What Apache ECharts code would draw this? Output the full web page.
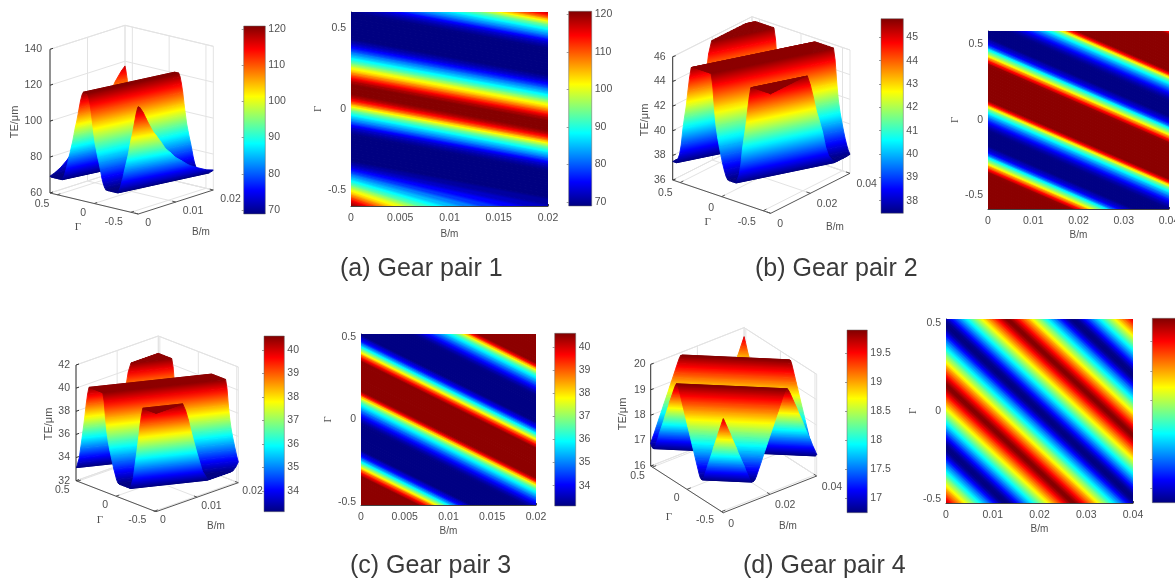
<!DOCTYPE html>
<html><head><meta charset="utf-8">
<style>html,body{margin:0;padding:0;background:#fff;overflow:hidden}#c{width:1175px;height:582px;filter:blur(0.5px)}</style>
<script src="https://cdn.jsdelivr.net/npm/echarts@6/dist/echarts.min.js"></script>
</head><body><div id="c"></div>
<script>
// TE (µm) read across one stripe period of each map, in order of falling Γ.
const te_a=[120.5,120.5,118.7,115.1,110.4,104.2,98.5,93.3,89.7,86,82.9,79.3,75.4,72.5,70.5,69.2,69,69,69,69,69,69,69,69,69,70.5,72.5,75.4,78.2,81.9,85,88.4,91.7,95.9,100,103.2,107.3,111.5,115.6,118.7,120.5,120.5];
const te_b=[45.7,44.76,42.96,41.55,40.67,39.96,39.3,38.71,38.21,37.79,37.54,37.5,37.5,37.5,37.5,37.5,37.88,38.29,39.13,40.46,41.46,42.38,43.63,44.76,45.63,45.7,45.7,45.7,45.7,45.7,45.7,45.7,45.7,45.7,45.7,45.7];
const te_c=[40.5,39.78,38.36,37.23,36.41,35.81,35.29,34.77,34.28,33.87,33.46,33.2,33.15,33.15,33.15,33.15,33.15,33.15,33.15,33.15,33.15,33.64,34.09,34.99,35.89,36.86,37.83,38.95,39.85,40.5,40.5,40.5,40.5,40.5,40.5,40.5,40.5,40.5,40.5];
const te_d=[19.88,19.77,19.62,19.46,19.3,19.14,18.99,18.83,18.67,18.51,18.36,18.2,18.04,17.88,17.73,17.57,17.41,17.25,17.1,16.94,16.81,16.76,16.76,16.84,17,17.16,17.32,17.51,17.66,17.82,17.98,18.14,18.33,18.48,18.64,18.8,18.99,19.14,19.3,19.46,19.62,19.77,19.88];

// stripe geometry: Γ of the first reading at B=0, Γ period, Γ drop over the B range
const stripe_a=[0.112,0.755,0.2245], stripe_b=[0.128,0.717,0.519], stripe_c=[0.172,0.700,0.527], stripe_d=[0.138,0.703,0.989];
// gear pair 1: its lower-left band runs steeper than the central one
const dropLower_a=[0.25,0.27,0.29,0.31,0.33,0.35,0.36,0.38,0.39,0.41,0.42,0.43,0.44,0.44,0.43,0.40,0.36,0.34];
const bMax_a=0.02, bMax_b=0.04, bMax_c=0.02, bMax_d=0.04;
const gammaLim_a=0.6, gammaLim_b=0.59, gammaLim_c=0.52, gammaLim_d=0.525;
const colorRange_a=[68.9,120.8], colorRange_b=[37.46,45.8], colorRange_c=[33.12,40.6], colorRange_d=[16.75,19.9];

const gammaTicks=[0.5,0,-0.5];
const zTicks_a=[60,80,100,120,140], zTicks_b=[36,38,40,42,44,46], zTicks_c=[32,34,36,38,40,42], zTicks_d=[16,17,18,19,20];
const bTicks3d_a=[0,0.01,0.02], bTicks3d_b=[0,0.02,0.04], bTicks3d_c=[0,0.01,0.02], bTicks3d_d=[0,0.02,0.04];
const bTicksMap_a=[0,0.005,0.01,0.015,0.02], bTicksMap_b=[0,0.01,0.02,0.03,0.04], bTicksMap_c=[0,0.005,0.01,0.015,0.02], bTicksMap_d=[0,0.01,0.02,0.03,0.04];
const barTicks_a=[70,80,90,100,110,120], barTicks_b=[38,39,40,41,42,43,44,45], barTicks_c=[34,35,36,37,38,39,40], barTicks_d=[17,17.5,18,18.5,19,19.5];
const captions=['(a) Gear pair 1','(b) Gear pair 2','(c) Gear pair 3','(d) Gear pair 4'];

// ---- layout (pixels) ----
const jetStops=['#00007f','#0000ff','#007fff','#00ffff','#7fff7f','#ffff00','#ff7f00','#ff0000','#7f0000'];
const TXT='#505050', FONT='"Liberation Sans",Arial,sans-serif';
const panels=[
 {te:te_a,st:stripe_a,bMax:bMax_a,gl:gammaLim_a,cr:colorRange_a,zT:zTicks_a,bT3:bTicks3d_a,bTM:bTicksMap_a,barT:barTicks_a,
  drop:k=>k>=25?dropLower_a[Math.min(k-25,dropLower_a.length-1)]:stripe_a[2],
  L:[50,193],N:[138.3,214],R:[213.3,190],zTopY:49.3,zdx:-8,gOff:[-8,9.5],bOff:[7,9],gName:[78,227],bName:[201,232],zName:[15,122],
  map:[351,12,197,194],xGap:23.5,yGap:12,bars:[[243.7,26,21.6,188],[568.7,11.3,23,194.7]],cap:[340,271]},
 {te:te_b,st:stripe_b,bMax:bMax_b,gl:gammaLim_b,cr:colorRange_b,zT:zTicks_b,bT3:bTicks3d_b,bTM:bTicksMap_b,barT:barTicks_b,
  L:[672.7,180],N:[770.7,213.3],R:[850,173.3],zTopY:56.7,zdx:-7,gOff:[-7.5,11],bOff:[6.5,10.5],gName:[707.7,222],bName:[835,227],zName:[645,120],
  map:[988,31,181,178],xGap:21,yGap:9,bars:[[881,18.7,22.3,194.6]],cap:[755,271]},
 {te:te_c,st:stripe_c,bMax:bMax_c,gl:gammaLim_c,cr:colorRange_c,zT:zTicks_c,bT3:bTicks3d_c,bTM:bTicksMap_c,barT:barTicks_c,
  L:[76,480.7],N:[156,511.7],R:[238.3,482.7],zTopY:365,zdx:-6,gOff:[-8,9],bOff:[4,8.5],gName:[100,520],bName:[216,526],zName:[49,424],
  map:[361,334,175,171],xGap:21.5,yGap:12,bars:[[264,336,20.3,175.7],[554.7,333.3,21,172.7]],cap:[350,568]},
 {te:te_d,st:stripe_d,bMax:bMax_d,gl:gammaLim_d,cr:colorRange_d,zT:zTicks_d,bT3:bTicks3d_d,bTM:bTicksMap_d,barT:barTicks_d,
  L:[650.7,466],N:[723.3,512.7],R:[816.7,476],zTopY:364.3,zdx:-5,gOff:[-7.5,9],bOff:[5,11],gName:[669,517],bName:[788,526],zName:[623,414],
  map:[946,319,187,184],xGap:21.5,yGap:12,bars:[[847,330,20.3,182.7],[1152.3,318.3,24,184.4]],cap:[743,568]}
];

const jet=(te,cr)=>echarts.color.lerp(Math.max(0,Math.min(1,(te-cr[0])/(cr[1]-cr[0]))),jetStops);
const mod=(a,n)=>((a%n)+n)%n;
const dropOf=(p,k)=>p.drop?p.drop(k):p.st[2];

// One facet per pair of neighbouring readings, running along the stripe across the B range.
function stripRows(p){
  const n=p.te.length, d=p.st[1]/n, g0=p.st[0];
  const kMin=Math.floor((g0-p.gl-p.st[2])/d)-1, kMax=Math.ceil((g0+p.gl)/d)+1, rows=[];
  for(let k=kMin;k<=kMax;k++) rows.push([k,p.te[mod(k,n)],p.te[mod(k+1,n)]]);
  return rows;
}
function stripFill(P1,P2,E,z1,z2,cr){
  const el=Math.hypot(E[0],E[1])||1, nx=-E[1]/el, ny=E[0]/el;
  const dd=(P2[0]-P1[0])*nx+(P2[1]-P1[1])*ny, stops=[];
  for(let i=0;i<=4;i++) stops.push({offset:i/4,color:jet(z1+(z2-z1)*i/4,cr)});
  return new echarts.graphic.LinearGradient(P1[0],P1[1],P1[0]+nx*dd,P1[1]+ny*dd,stops,true);
}
function clipGamma(poly,lim,sign){
  const out=[];
  for(let i=0;i<poly.length;i++){
    const a=poly[i], b=poly[(i+1)%poly.length];
    const ia=sign*a.g<=lim, ib=sign*b.g<=lim;
    if(ia) out.push(a);
    if(ia!==ib){
      const t=(sign*lim-a.g)/(b.g-a.g);
      out.push({b:a.b+(b.b-a.b)*t,g:a.g+(b.g-a.g)*t,z:a.z+(b.z-a.z)*t});
    }
  }
  return out;
}
function projector(p){
  const zMin=p.zT[0], zMax=p.zT[p.zT.length-1], ppu=(p.L[1]-p.zTopY)/(zMax-zMin);
  return (b,g,z)=>{
    const u=(g+p.gl)/(2*p.gl);
    return [p.N[0]+b*(p.R[0]-p.N[0])+u*(p.L[0]-p.N[0]), p.N[1]+b*(p.R[1]-p.N[1])+u*(p.L[1]-p.N[1])-(z-zMin)*ppu];
  };
}

const grid=[],xAxis=[],yAxis=[],series=[];
// shared pixel-space grid used to place the projected 3-D boxes and surfaces
grid.push({left:0,top:0,width:1175,height:582,outerBoundsMode:'none'});
xAxis.push({type:'value',gridIndex:0,min:0,max:1175,show:false});
yAxis.push({type:'value',gridIndex:0,min:0,max:582,inverse:true,show:false});

function boxSeries(p){
  const zMin=p.zT[0],zMax=p.zT[p.zT.length-1],pr=projector(p),G='#e3e3e3',D='#555';
  return {type:'custom',xAxisIndex:0,yAxisIndex:0,data:[[0]],silent:true,clip:false,z:2,
   renderItem(params,api){
    const c=[],xy=q=>api.coord(q);
    const line=(a,b,col,w)=>{const A=xy(a),B=xy(b);c.push({type:'line',shape:{x1:A[0],y1:A[1],x2:B[0],y2:B[1]},style:{stroke:col,lineWidth:w||1}});};
    const text=(s,q,o)=>{const Q=xy(q);c.push({type:'text',x:Q[0],y:Q[1],rotation:o.rot||0,style:{text:String(s),fill:TXT,fontFamily:o.font||FONT,fontSize:o.size||10.5,align:o.align||'center',verticalAlign:'middle'}});};
    const g1=p.gl,g0=-p.gl;
    p.zT.forEach(z=>{line(pr(0,g1,z),pr(1,g1,z),G);line(pr(1,g1,z),pr(1,g0,z),G);});
    p.bT3.forEach(b=>{const f=b/p.bMax;line(pr(f,g0,zMin),pr(f,g1,zMin),G);line(pr(f,g1,zMin),pr(f,g1,zMax),G);});
    gammaTicks.forEach(g=>{line(pr(0,g,zMin),pr(1,g,zMin),G);line(pr(1,g,zMin),pr(1,g,zMax),G);});
    line(pr(1,g1,zMin),pr(1,g1,zMax),G);line(pr(1,g0,zMin),pr(1,g0,zMax),G);
    line(pr(0,g1,zMax),pr(1,g1,zMax),G);line(pr(1,g1,zMax),pr(1,g0,zMax),G);
    line(pr(0,g1,zMin),pr(1,g1,zMin),G);line(pr(1,g1,zMin),pr(1,g0,zMin),G);
    line(pr(0,g1,zMin),pr(0,g1,zMax),'#333');
    line(pr(0,g1,zMin),pr(0,g0,zMin),D);
    line(pr(0,g0,zMin),pr(1,g0,zMin),D);
    p.zT.forEach(z=>{const a=pr(0,g1,z);line(a,[a[0]+3,a[1]-1],'#333');
      text(z,[a[0]+p.zdx,a[1]],{align:'right'});});
    gammaTicks.forEach(g=>{const a=pr(0,g,zMin),b=pr(0.04,g,zMin);line(a,b,D);
      text(g,[a[0]+p.gOff[0],a[1]+p.gOff[1]],{align:'right'});});
    p.bT3.forEach(v=>{const f=v/p.bMax,a=pr(f,g0,zMin),b=pr(f,g0+0.04*2*p.gl,zMin);line(a,b,D);
      text(v,[a[0]+p.bOff[0],a[1]+p.bOff[1]],{align:'left'});});
    text('Γ',p.gName,{font:'"Liberation Serif",serif',size:11});
    text('B/m',p.bName,{size:10});
    text('TE/μm',p.zName,{size:11,rot:Math.PI/2});
    return {type:'group',children:c};
   }};
}
function surfaceSeries(p){
  const pr=projector(p),[g0,P]=p.st,d=P/p.te.length;
  return {type:'custom',xAxisIndex:0,yAxisIndex:0,data:stripRows(p),silent:true,clip:false,z:3,progressive:0,
   renderItem(params,api){
    const k=api.value(0),z1=api.value(1),z2=api.value(2),a=g0-k*d,b=a-d,Sa=dropOf(p,k),Sb=dropOf(p,k+1);
    let poly=[{b:0,g:a,z:z1},{b:1,g:a-Sa,z:z1},{b:1,g:b-Sb,z:z2},{b:0,g:b,z:z2}];
    poly=clipGamma(poly,p.gl,1); if(poly.length<3) return null;
    poly=clipGamma(poly,p.gl,-1); if(poly.length<3) return null;
    const pts=poly.map(q=>api.coord(pr(q.b,q.g,q.z)));
    const P1=api.coord(pr(0,a,z1)),P2=api.coord(pr(0,b,z2)),Q=api.coord(pr(1,a-Sa,z1));
    const fill=stripFill(P1,P2,[Q[0]-P1[0],Q[1]-P1[1]],z1,z2,p.cr);
    return {type:'polygon',shape:{points:pts},style:{fill,stroke:fill,lineWidth:0.9}};
   }};
}
function mapPanel(p){
  const gi=grid.length,[l,t,w,h]=p.map,[g0,P]=p.st,d=P/p.te.length;
  grid.push({left:l,top:t,width:w,height:h,outerBoundsMode:'none'});
  xAxis.push({type:'value',gridIndex:gi,min:0,max:p.bMax,name:'B/m',nameLocation:'middle',nameGap:p.xGap,
    nameTextStyle:{color:TXT,fontFamily:FONT,fontSize:10},
    axisLine:{show:true,onZero:false,lineStyle:{color:'#444',width:1}},splitLine:{show:false},
    axisTick:{show:true,inside:true,length:2,customValues:p.bTM,lineStyle:{color:'#444'}},
    axisLabel:{customValues:p.bTM,color:TXT,fontFamily:FONT,fontSize:10.5,margin:7,formatter:v=>String(v),hideOverlap:false}});
  yAxis.push({type:'value',gridIndex:gi,min:-p.gl,max:p.gl,name:'Γ',nameLocation:'middle',nameGap:p.yGap,nameRotate:90,
    nameTextStyle:{color:TXT,fontFamily:'"Liberation Serif",serif',fontSize:10.5},
    axisLine:{show:true,onZero:false,lineStyle:{color:'#444',width:1}},splitLine:{show:false},
    axisTick:{show:true,inside:true,length:2,customValues:gammaTicks,lineStyle:{color:'#444'}},
    axisLabel:{customValues:gammaTicks,color:TXT,fontFamily:FONT,fontSize:10.5,margin:5,formatter:v=>String(v)}});
  series.push({type:'custom',xAxisIndex:gi,yAxisIndex:gi,data:stripRows(p),silent:true,clip:true,z:3,progressive:0,
   renderItem(params,api){
    const k=api.value(0),z1=api.value(1),z2=api.value(2),a=g0-k*d,b=a-d,Sa=dropOf(p,k),Sb=dropOf(p,k+1);
    const A=api.coord([0,a]),B=api.coord([p.bMax,a-Sa]),C=api.coord([p.bMax,b-Sb]),D=api.coord([0,b]);
    const fill=stripFill(A,D,[B[0]-A[0],B[1]-A[1]],z1,z2,p.cr);
    return {type:'polygon',shape:{points:[A,B,C,D]},style:{fill,stroke:fill,lineWidth:1.2}};
   }});
}
function barPanel(p,rect){
  const gi=grid.length,[l,t,w,h]=rect,cr=p.cr;
  grid.push({left:l,top:t,width:w,height:h,outerBoundsMode:'none'});
  xAxis.push({type:'value',gridIndex:gi,min:0,max:1,show:false});
  yAxis.push({type:'value',gridIndex:gi,min:cr[0],max:cr[1],position:'right',
    axisLine:{show:false},splitLine:{show:false},
    axisTick:{show:true,inside:true,length:2,customValues:p.barT,lineStyle:{color:'rgba(60,60,60,0.5)'}},
    axisLabel:{customValues:p.barT,color:TXT,fontFamily:FONT,fontSize:10.5,margin:3,formatter:v=>String(v)}});
  series.push({type:'custom',xAxisIndex:gi,yAxisIndex:gi,data:[[0,cr[0],1,cr[1]]],silent:true,z:1,
   renderItem(params,api){
    const a=api.coord([api.value(0),api.value(3)]),b=api.coord([api.value(2),api.value(1)]);
    return {type:'rect',shape:{x:a[0],y:a[1],width:b[0]-a[0],height:b[1]-a[1]},
      style:{stroke:'#666',lineWidth:0.5,fill:new echarts.graphic.LinearGradient(0,1,0,0,jetStops.map((c,i)=>({offset:i/8,color:c})))}};
   }});
}
panels.forEach(p=>{
  series.push(boxSeries(p));
  series.push(surfaceSeries(p));
  mapPanel(p);
  p.bars.forEach(r=>barPanel(p,r));
});
const graphic=panels.map((p,i)=>({type:'text',left:p.cap[0],top:p.cap[1]-14,silent:true,
  style:{text:captions[i],fill:'#3a3a3a',fontFamily:FONT,fontSize:25}}));

const chart=echarts.init(document.getElementById('c'),null,{renderer:'canvas'});
chart.setOption({animation:false,backgroundColor:'#fff',grid,xAxis,yAxis,series,graphic,tooltip:{show:false}});
</script></body></html>
